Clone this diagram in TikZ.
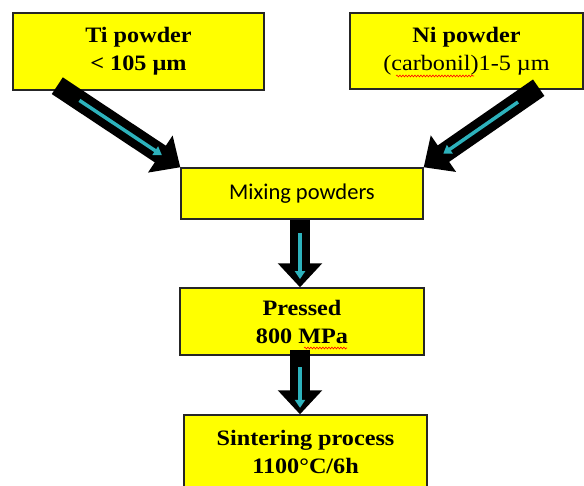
\documentclass[tikz,border=0pt]{standalone}
\usepackage{fontspec}
\setmainfont{Liberation Serif}[FakeStretch=1.1]
\newfontfamily\mixfont{Carlito}
\usetikzlibrary{arrows.meta,calc,decorations.pathmorphing}
\definecolor{boxyellow}{RGB}{255,255,0}
\definecolor{arrowcyan}{RGB}{45,178,188}
\begin{document}
\begin{tikzpicture}[x=1pt,y=-1pt,
  box/.style={draw=black!85, line width=1.4pt, fill=boxyellow, inner sep=0pt, align=center,
    font=\bfseries\fontsize{22}{28}\selectfont},
  fat/.style={draw=black, line width=20pt, -{Triangle[length=24pt,width=43pt]}},
  inner/.style={draw=arrowcyan, line width=3.5pt, -{Triangle[length=8pt,width=10pt]}},
  squig/.style={draw=red, line width=0.6pt, decorate,
    decoration={snake, amplitude=0.9pt, segment length=3pt}}]
\useasboundingbox (0,0) rectangle (584,486);
\fill[white] (0,0) rectangle (584,486);

\node[box, minimum width=251pt, minimum height=77pt] (ti) at (138.5,51.5)
  {Ti powder\\< 105 µm};
\node[box, minimum width=233pt, minimum height=76pt] (ni) at (466.5,51)
  {Ni powder\\{\mdseries (carbonil)1-5 µm}};
\node[box, minimum width=242pt, minimum height=51pt, font=\mixfont\fontsize{22.5}{26}\selectfont] (mix) at (302,193.5)
  {Mixing powders};
\node[box, minimum width=244pt, minimum height=67pt] (pr) at (302,321.5)
  {Pressed\\800 MPa};
\node[box, minimum width=243pt, minimum height=74pt] (sin) at (305.5,452)
  {Sintering process\\1100°C/6h};

% diagonal arrows
\coordinate (tiS) at ($(ti.south west)+(45,-5)$);
\draw[fat] (tiS) -- (mix.north west);
\draw[inner] ($(tiS)!0.18!(mix.north west)$) -- ($(tiS)!0.85!(mix.north west)$);

\coordinate (niS) at ($(ni.south east)+(-45,-2)$);
\draw[fat] (niS) -- (mix.north east);
\draw[inner] ($(niS)!0.18!(mix.north east)$) -- ($(niS)!0.83!(mix.north east)$);

% vertical arrows
\coordinate (m1) at ($(mix.south)+(-2,0)$);
\coordinate (m2) at (m1 |- pr.north);
\draw[fat] (m1) -- (m2);
\draw[inner] ($(m1)!0.2!(m2)$) -- ($(m1)!0.88!(m2)$);

\coordinate (p1) at ($(pr.south)+(-2,-6)$);
\coordinate (p2) at (p1 |- sin.north);
\draw[fat] (p1) -- (p2);
\draw[inner] ($(p1)!0.27!(p2)$) -- ($(p1)!0.9!(p2)$);

% spell-check underlines
\draw[squig] (396,76) -- (474,76);
\draw[squig] (304,348) -- (347,348);
\end{tikzpicture}
\end{document}
